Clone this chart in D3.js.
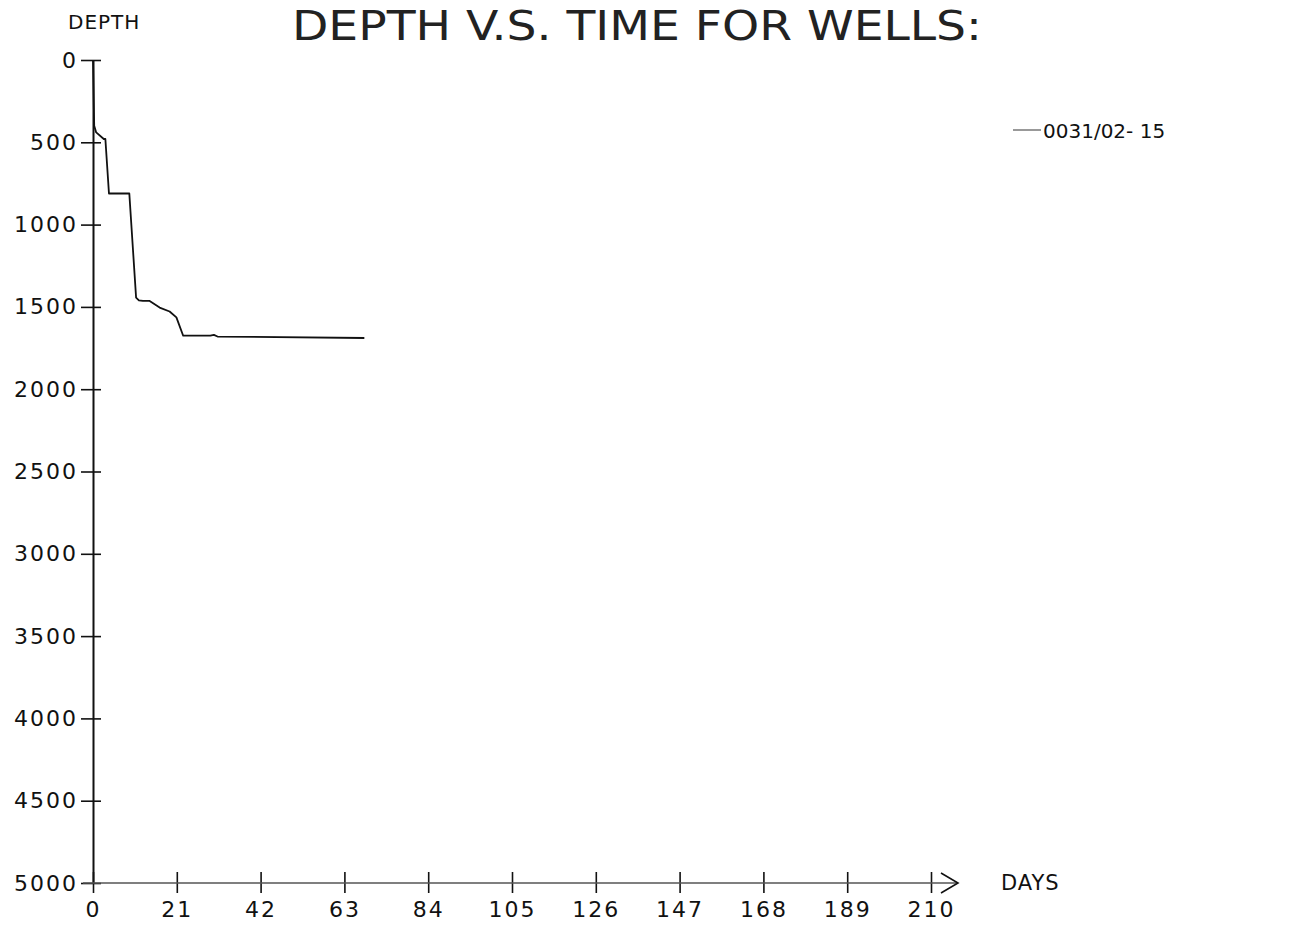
<!DOCTYPE html>
<html>
<head>
<meta charset="utf-8">
<script src="https://cdn.jsdelivr.net/npm/d3@7"></script>
<style>
  body { margin: 0; background: #fff; }
  text { font-family: "DejaVu Sans", sans-serif; fill: #111; }
  .title { font-family: "DejaVu Sans Condensed", "DejaVu Sans", sans-serif; fill: #222; }
</style>
</head>
<body>
<script>
// ---- data ----
const days   = [0, 0.3, 0.8, 2.7, 3.1, 4.0, 9.1, 10.8, 11.5, 12.5, 14.2, 16.7, 19.2, 20.9, 22.6, 29.4, 30.3, 31.2, 68];
const depths = [0, 400, 440, 480, 480, 811, 811, 1444, 1460, 1464, 1464, 1504, 1528, 1564, 1675, 1675, 1670, 1680, 1689];
const dayTicks   = [0, 21, 42, 63, 84, 105, 126, 147, 168, 189, 210];
const depthTicks = [0, 500, 1000, 1500, 2000, 2500, 3000, 3500, 4000, 4500, 5000];
const wellName = "0031/02- 15";
const TITLE_TEXT = "DEPTH V.S. TIME FOR WELLS:";

const W = 1300, H = 932;
const svg = d3.select("body").append("svg").attr("width", W).attr("height", H);

const x = d3.scaleLinear().domain([0, 210]).range([93, 931]);
const y = d3.scaleLinear().domain([0, 5000]).range([60, 883]);

// title + y label (reference title runs off the top edge; kept just inside here)
svg.append("text").attr("class", "title")
  .attr("x", 292).attr("y", 40)
  .attr("textLength", 690).attr("lengthAdjust", "spacingAndGlyphs")
  .style("font-size", "40px")
  .text(TITLE_TEXT);
svg.append("text").attr("x", 68).attr("y", 29)
  .style("font-size", "20px").style("letter-spacing", "1px").text("DEPTH");

// y axis
const yAxis = svg.append("g")
  .attr("transform", `translate(${x(0)},0)`)
  .call(d3.axisLeft(y).tickValues(depthTicks).tickFormat(d3.format("d")).tickSize(0).tickPadding(15));
yAxis.select(".domain").attr("stroke", "#111").attr("stroke-width", 2);
yAxis.selectAll(".tick line").attr("x1", -12).attr("x2", 8).attr("stroke", "#111").attr("stroke-width", 1.6);
yAxis.selectAll(".tick text")
  .style("font-size", "22px").style("font-family", "DejaVu Sans").style("letter-spacing", "2px");

// x axis
const xAxis = svg.append("g")
  .attr("transform", `translate(0,${y(5000)})`)
  .call(d3.axisBottom(x).tickValues(dayTicks).tickFormat(d3.format("d")).tickSize(0).tickPadding(18));
xAxis.select(".domain").remove();
xAxis.selectAll(".tick line").attr("y1", -11).attr("y2", 10).attr("stroke", "#111").attr("stroke-width", 1.6);
xAxis.selectAll(".tick text")
  .style("font-size", "22px").style("font-family", "DejaVu Sans").style("letter-spacing", "2px");
xAxis.append("line").attr("x1", x(0) - 10).attr("x2", x(210) + 26).attr("y1", 0).attr("y2", 0)
  .attr("stroke", "#555").attr("stroke-width", 1.3);
xAxis.append("path")
  .attr("d", `M${x(210) + 10},-10 L${x(210) + 27},0 L${x(210) + 10},10`)
  .attr("fill", "none").attr("stroke", "#111").attr("stroke-width", 1.6);
xAxis.append("text").attr("x", x(210) + 70).attr("y", 7)
  .attr("text-anchor", "start").attr("fill", "#111")
  .style("font-size", "21px").style("letter-spacing", "1px").text("DAYS");

// depth curve
const line = d3.line().x(d => x(d[0])).y(d => y(d[1]));
svg.append("path")
  .datum(days.map((d, i) => [d, depths[i]]))
  .attr("d", line)
  .attr("fill", "none").attr("stroke", "#111").attr("stroke-width", 1.8)
  .attr("stroke-linejoin", "round");

// legend
svg.append("line").attr("x1", 1013).attr("x2", 1041).attr("y1", 130).attr("y2", 130)
  .attr("stroke", "#555").attr("stroke-width", 1.2);
svg.append("text").attr("x", 1043).attr("y", 138)
  .style("font-size", "20px").text(wellName);
</script>
</body>
</html>
